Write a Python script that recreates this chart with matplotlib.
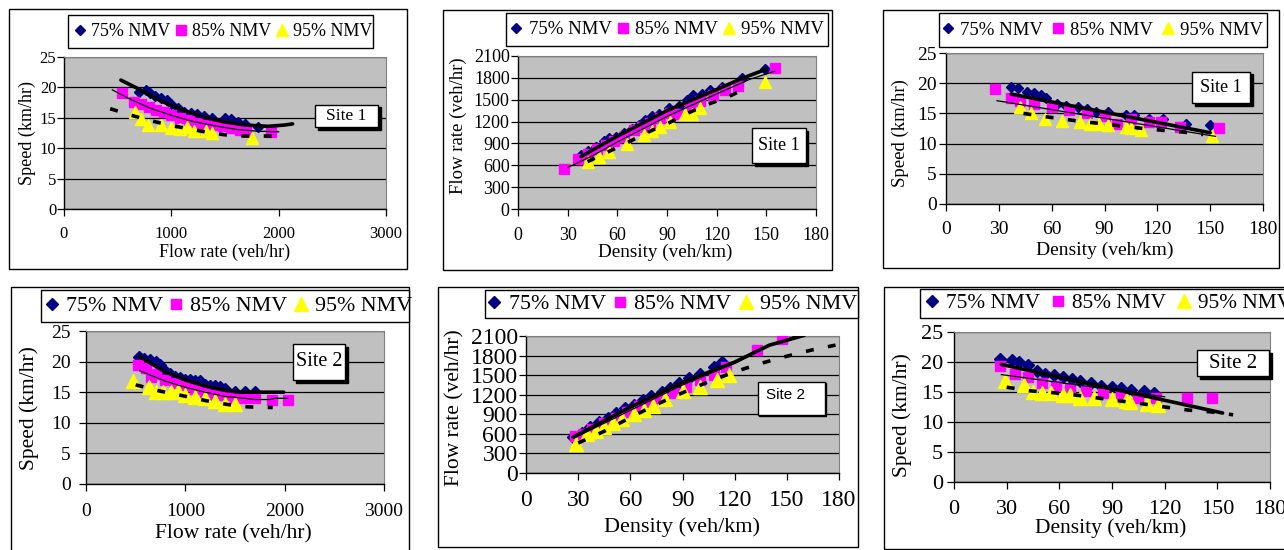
"""Six speed-flow-density panels (Site 1 / Site 2) at 75, 85 and 95 % NMV."""
import matplotlib
matplotlib.use("Agg")
import matplotlib.pyplot as plt
from matplotlib.patches import Rectangle

W, H = 1284, 550
SERIF = "Liberation Serif"
plt.rcParams["font.family"] = [SERIF, "DejaVu Serif"]

LABELS = ["75% NMV", "85% NMV", "95% NMV"]

# ---- Site 1: speed vs flow ----
p1_q75 = [700, 760, 800, 850, 900, 960, 1000, 1060, 1120, 1180, 1240, 1300, 1380, 1500, 1560, 1620, 1690, 1810]
p1_v75 = [19.3, 19.5, 19.0, 18.6, 18.2, 18.0, 17.2, 16.6, 16.0, 15.8, 15.6, 15.3, 15.0, 15.0, 14.8, 14.3, 14.0, 13.5]
p1_q85 = [540, 650, 720, 790, 860, 930, 1000, 1080, 1160, 1240, 1320, 1400, 1480, 1560, 1640, 1700, 1930]
p1_v85 = [19.0, 17.6, 17.2, 16.8, 16.3, 15.9, 15.4, 15.0, 14.6, 14.2, 13.8, 13.8, 13.6, 13.3, 13.0, 12.8, 12.6]
p1_q95 = [660, 720, 780, 900, 1000, 1080, 1150, 1210, 1320, 1380, 1750]
p1_v95 = [16.0, 14.8, 13.8, 13.8, 13.3, 13.2, 13.5, 12.9, 12.8, 12.5, 11.6]
p1_fit75_q = [530, 700, 900, 1100, 1300, 1500, 1700, 1900, 2050, 2130]
p1_fit75_v = [21.2, 19.7, 17.8, 16.3, 15.1, 14.3, 13.8, 13.6, 13.8, 14.0]
p1_fit85_q = [450, 600, 800, 1000, 1200, 1400, 1600, 1800, 2000]
p1_fit85_v = [19.6, 18.2, 16.6, 15.4, 14.4, 13.7, 13.1, 12.8, 12.7]
p1_fit95_q = [430, 610, 790, 980, 1160, 1340, 1500, 1680, 1860, 2030]
p1_fit95_v = [16.5, 15.5, 14.6, 13.8, 13.2, 12.6, 12.2, 12.0, 12.0, 12.0]

# ---- Site 1: flow vs density ----
p2_k75 = [38, 42, 47, 52, 55, 59, 64, 69, 73, 77, 81, 85, 91, 97, 102, 106, 111, 116, 123, 135, 149]
p2_q75 = [740, 800, 850, 930, 970, 990, 1040, 1100, 1150, 1220, 1280, 1300, 1390, 1420, 1500, 1560, 1580, 1640, 1680, 1800, 1920]
p2_k85 = [28, 36, 42, 48, 53, 58, 64, 70, 75, 80, 86, 92, 98, 104, 110, 118, 125, 133, 155]
p2_q85 = [550, 680, 750, 820, 880, 930, 990, 1080, 1120, 1180, 1250, 1320, 1300, 1420, 1480, 1570, 1630, 1690, 1930]
p2_k95 = [42, 49, 55, 66, 76, 81, 86, 92, 101, 105, 110, 149]
p2_q95 = [640, 720, 780, 890, 1010, 1070, 1120, 1190, 1300, 1310, 1380, 1740]
p2_fit75_k = [38, 60, 90, 120, 135, 150]
p2_fit75_q = [720, 1000, 1350, 1640, 1790, 1920]
p2_fit85_k = [30, 45, 60, 90, 120, 140, 155]
p2_fit85_q = [570, 730, 920, 1270, 1580, 1780, 1890]
p2_fit95_k = [42, 54, 66, 78, 91, 103, 115, 127, 138]
p2_fit95_q = [650, 780, 910, 1050, 1180, 1320, 1440, 1540, 1660]

# ---- Site 1: speed vs density ----
p3_k75 = [37, 41, 46, 50, 54, 57, 63, 68, 75, 80, 85, 92, 102, 107, 115, 123, 136, 150]
p3_v75 = [19.4, 19.2, 18.5, 18.3, 18.1, 17.5, 16.6, 16.2, 16.0, 15.8, 15.2, 15.2, 14.8, 14.7, 14.0, 14.0, 13.3, 13.0]
p3_k85 = [28, 37, 42, 50, 60, 70, 80, 90, 97, 105, 115, 122, 133, 155]
p3_v85 = [19.0, 17.5, 17.0, 16.5, 16.0, 15.5, 15.0, 14.5, 13.2, 14.0, 13.5, 13.5, 12.8, 12.5]
p3_k95 = [42, 48, 56, 66, 76, 82, 87, 92, 102, 105, 111, 151]
p3_v95 = [16.0, 15.0, 14.0, 13.8, 13.5, 13.3, 13.3, 13.0, 12.8, 12.5, 12.3, 11.3]
p3_fit75_k = [37, 150]
p3_fit75_v = [18.2, 11.8]
p3_fit85_k = [29, 153]
p3_fit85_v = [17.1, 11.2]
p3_fit95_k = [44, 55, 66, 78, 89, 100, 112, 123, 135, 146]
p3_fit95_v = [15.0, 14.5, 14.1, 13.6, 13.3, 12.9, 12.5, 12.2, 11.9, 11.5]

# ---- Site 2: speed vs flow ----
p4_q75 = [530, 580, 640, 700, 750, 800, 850, 900, 950, 1000, 1050, 1100, 1150, 1200, 1250, 1300, 1350, 1400, 1500, 1600, 1700]
p4_v75 = [20.8, 20.5, 20.2, 20.0, 19.5, 18.5, 18.0, 17.5, 17.3, 17.0, 17.0, 16.8, 16.8, 16.2, 16.0, 16.0, 15.8, 15.5, 15.0, 15.0, 15.0]
p4_q85 = [520, 600, 650, 700, 800, 900, 1000, 1100, 1200, 1300, 1400, 1500, 1600, 1700, 1870, 2030]
p4_v85 = [19.5, 19.0, 17.5, 18.0, 17.0, 16.5, 16.0, 15.5, 15.0, 14.5, 14.5, 14.0, 14.0, 14.0, 13.8, 13.8]
p4_q95 = [470, 630, 700, 780, 860, 930, 1000, 1100, 1200, 1300, 1400, 1500]
p4_v95 = [16.8, 15.8, 15.0, 15.0, 15.0, 15.2, 14.5, 14.2, 14.0, 13.5, 13.0, 13.0]
p4_fit75_q = [540, 800, 1000, 1200, 1400, 1550, 1800, 1990]
p4_fit75_v = [20.8, 18.3, 17.0, 16.0, 15.3, 15.0, 15.0, 15.0]
p4_fit85_q = [540, 800, 1000, 1200, 1400, 1600, 1700, 1850, 1900, 2030]
p4_fit85_v = [18.5, 16.8, 15.8, 15.0, 14.3, 14.0, 13.8, 13.8, 14.0, 14.0]
p4_fit95_q = [500, 740, 980, 1210, 1420, 1630, 1880]
p4_fit95_v = [16.2, 15.2, 14.4, 13.6, 13.0, 12.6, 12.5]

# ---- Site 2: flow vs density ----
p5_k75 = [27, 32, 37, 42, 47, 52, 57, 62, 67, 72, 78, 83, 88, 94, 100, 108, 113]
p5_q75 = [550, 620, 700, 780, 850, 920, 990, 1050, 1120, 1180, 1240, 1300, 1380, 1450, 1520, 1620, 1700]
p5_k85 = [28, 33, 38, 45, 52, 58, 65, 72, 78, 85, 92, 100, 108, 115, 133, 147]
p5_q85 = [560, 600, 680, 760, 850, 930, 1020, 1090, 1150, 1230, 1320, 1420, 1500, 1620, 1880, 2050]
p5_k95 = [29, 35, 40, 45, 50, 55, 62, 68, 73, 80, 90, 100, 110, 117]
p5_q95 = [440, 600, 650, 700, 760, 830, 900, 960, 1030, 1140, 1250, 1320, 1430, 1500]
p5_fit75_k = [27, 60, 90, 120, 140, 160]
p5_fit75_q = [550, 1010, 1390, 1700, 1960, 2110]
p5_fit85_k = [28, 60, 90, 120, 140, 155]
p5_fit85_q = [540, 960, 1350, 1680, 1950, 2100]
p5_fit95_k = [30, 45, 60, 75, 90, 105, 120, 135, 150, 165, 178]
p5_fit95_q = [460, 640, 850, 1050, 1230, 1400, 1550, 1680, 1790, 1890, 1960]

# ---- Site 2: speed vs density ----
p6_k75 = [26, 33, 37, 42, 47, 52, 57, 62, 67, 72, 78, 84, 90, 95, 101, 108, 114]
p6_v75 = [20.5, 20.3, 20.0, 19.5, 18.5, 18.0, 17.8, 17.5, 17.2, 16.8, 16.5, 16.0, 15.8, 15.6, 15.3, 15.2, 14.9]
p6_k85 = [26, 35, 42, 50, 58, 66, 75, 85, 95, 105, 115, 133, 147]
p6_v85 = [19.3, 18.0, 17.5, 16.5, 16.0, 15.5, 15.2, 14.8, 14.5, 14.0, 14.0, 14.0, 14.0]
p6_k95 = [29, 40, 45, 50, 55, 62, 66, 72, 80, 90, 98, 100, 110, 116]
p6_v95 = [16.8, 16.2, 15.0, 14.8, 14.8, 14.5, 14.5, 14.0, 14.0, 13.8, 13.5, 13.3, 13.0, 12.8]
p6_fit75_k = [27, 153]
p6_fit75_v = [19.6, 11.5]
p6_fit85_k = [27, 120]
p6_fit85_v = [17.9, 14.2]
p6_fit95_k = [30, 43, 56, 69, 82, 95, 108, 120, 133, 146, 159]
p6_fit95_v = [15.8, 15.2, 14.9, 14.5, 14.0, 13.5, 13.0, 12.5, 12.0, 11.7, 11.2]

fig = plt.figure(figsize=(W / 100, H / 100), dpi=100)
fig.patch.set_facecolor("white")


def fx(x):
    return x / W


def fy(y):
    return 1 - y / H


def box(x0, y0, x1, y1, fc=None, lw=1.0, z=0.5):
    fig.add_artist(Rectangle((fx(x0), fy(y1)), fx(x1 - x0), (y1 - y0) / H,
                             transform=fig.transFigure, fill=fc is not None,
                             facecolor=fc or "none", edgecolor="black", lw=lw, zorder=z))


def site_box(x0, y0, x1, y1, text, fs, family=SERIF, sh=2.5, tx=None, ty=None):
    if sh:
        box(x0 + sh, y0 + sh, x1 + sh, y1 + sh, fc="black", z=3)
    box(x0, y0, x1, y1, fc="white", z=3.1)
    if tx is None:
        fig.text(fx((x0 + x1) / 2), fy((y0 + y1) / 2), text, ha="center", va="center",
                 fontsize=fs, family=family, zorder=4)
    else:
        fig.text(fx(tx), fy(ty), text, ha="left", va="center",
                 fontsize=fs, family=family, zorder=4)


def panel(rect, series, fits, xmax, xstep, ymax, ystep, tfs, xpad, ypad, ms=1.0):
    x0, y0, x1, y1 = rect
    ax = fig.add_axes([fx(x0), fy(y1), fx(x1 - x0), (y1 - y0) / H])
    ax.set_facecolor("#C0C0C0")
    (xa, ya), (xb, yb), (xc, yc) = series
    h1, = ax.plot(xa, ya, ls="none", marker="D", ms=5.6 * ms, mfc="#000080", mec="#000080", zorder=3)
    h2, = ax.plot(xb, yb, ls="none", marker="s", ms=6.8 * ms, mfc="#FF00FF", mec="#FF00FF", zorder=3.1)
    h3, = ax.plot(xc, yc, ls="none", marker="^", ms=8.4 * ms, mfc="#FFFF00", mec="#FFFF00", zorder=3.2)
    (fa, fb), (fc_, fd), (fe, ff) = fits
    ax.plot(fa, fb, color="black", lw=2.6, zorder=4, solid_capstyle="round")
    ax.plot(fc_, fd, color="black", lw=0.9, zorder=4)
    ax.plot(fe, ff, color="black", lw=2.6, dashes=(2.2, 4.0), zorder=4)
    ax.set_xlim(0, xmax)
    ax.set_ylim(0, ymax)
    ax.set_xticks(range(0, xmax + 1, xstep))
    ax.set_yticks(range(0, ymax + 1, ystep))
    ax.yaxis.grid(True, color="black", lw=0.9)
    ax.set_axisbelow(True)
    for s in ("top", "right"):
        ax.spines[s].set_color("#808080")
    for s in ("left", "bottom"):
        ax.spines[s].set_linewidth(1.0)
    ax.tick_params(direction="out", length=5, width=0.9, labelsize=tfs)
    ax.tick_params(axis="x", pad=xpad)
    ax.tick_params(axis="y", pad=ypad)
    return [h1, h2, h3]


def legend(handles, x0, y0, x1, y1, cx, fs, colsp):
    box(x0, y0, x1, y1, fc="white", z=3)
    fig.legend(handles, LABELS, loc="center", bbox_to_anchor=(fx(cx), fy((y0 + y1) / 2)),
               ncol=3, frameon=False, prop={"family": SERIF, "size": fs},
               handlelength=0.7, handletextpad=0.3, columnspacing=colsp, borderpad=0)


# outer frames
box(9, 9, 407, 269)
box(443, 10, 832, 270)
box(883, 10, 1279, 268)
box(11, 287, 409, 560)
box(438, 287, 858, 547)
box(884, 287, 1300, 549)

# ---- top row ----
h = panel((64, 57, 386, 209), [(p1_q75, p1_v75), (p1_q85, p1_v85), (p1_q95, p1_v95)],
          [(p1_fit75_q, p1_fit75_v), (p1_fit85_q, p1_fit85_v), (p1_fit95_q, p1_fit95_v)],
          3000, 1000, 25, 5, 12, 7, 0.5)
legend(h, 68, 15, 373, 48, 223, 13, 0.2)
site_box(315, 105, 378, 127, "Site 1", 12.5)
fig.text(fx(225), fy(252), "Flow rate (veh/hr)", ha="center", va="center", fontsize=13)
fig.text(fx(27), fy(133), "Speed (km/hr)", ha="center", va="center", rotation=90, fontsize=13)

h = panel((518, 56, 816, 209), [(p2_k75, p2_q75), (p2_k85, p2_q85), (p2_k95, p2_q95)],
          [(p2_fit75_k, p2_fit75_q), (p2_fit85_k, p2_fit85_q), (p2_fit95_k, p2_fit95_q)],
          180, 30, 2100, 300, 13, 8, 1)
legend(h, 506, 13, 828, 46, 667, 13.5, 0.25)
site_box(752, 128, 806, 163, "Site 1", 13)
fig.text(fx(665), fy(252), "Density (veh/km)", ha="center", va="center", fontsize=13.8)
fig.text(fx(458), fy(126), "Flow rate (veh/hr)", ha="center", va="center", rotation=90, fontsize=13.5)

h = panel((946, 53, 1263, 204), [(p3_k75, p3_v75), (p3_k85, p3_v85), (p3_k95, p3_v95)],
          [(p3_fit75_k, p3_fit75_v), (p3_fit85_k, p3_fit85_v), (p3_fit95_k, p3_fit95_v)],
          180, 30, 25, 5, 14, 7, 1.5)
legend(h, 939, 13, 1267, 47, 1102, 13.5, 0.45)
site_box(1192, 72, 1250, 103, "Site 1", 13)
fig.text(fx(1105), fy(250), "Density (veh/km)", ha="center", va="center", fontsize=14)
fig.text(fx(900), fy(133), "Speed (km/hr)", ha="center", va="center", rotation=90, fontsize=13.5)

# ---- bottom row ----
h = panel((86, 331, 384, 484), [(p4_q75, p4_v75), (p4_q85, p4_v85), (p4_q95, p4_v95)],
          [(p4_fit75_q, p4_fit75_v), (p4_fit85_q, p4_fit85_v), (p4_fit95_q, p4_fit95_v)],
          3000, 1000, 25, 5, 14, 9, 6, ms=1.15)
legend(h, 41, 290, 409, 322, 228, 15.8, 0.25)
site_box(293, 344, 345, 380, "Site 2", 14.5)
fig.text(fx(233), fy(534), "Flow rate (veh/hr)", ha="center", va="center", fontsize=15.5)
fig.text(fx(29), fy(408), "Speed (km/hr)", ha="center", va="center", rotation=90, fontsize=15.5)

h = panel((526, 336, 839, 473), [(p5_k75, p5_q75), (p5_k85, p5_q85), (p5_k95, p5_q95)],
          [(p5_fit75_k, p5_fit75_q), (p5_fit85_k, p5_fit85_q), (p5_fit95_k, p5_fit95_q)],
          180, 30, 2100, 300, 17, 7, 1, ms=1.15)
legend(h, 485, 290, 858, 318, 672, 15.8, 0.3)
site_box(758, 382, 825, 415, "Site 2", 11, family="Liberation Sans", sh=1, tx=766, ty=395)
fig.text(fx(682), fy(527), "Density (veh/km)", ha="center", va="center", fontsize=16)
fig.text(fx(455), fy(408), "Flow rate (veh/hr)", ha="center", va="center", rotation=90, fontsize=15.5)

h = panel((954, 332, 1270, 482), [(p6_k75, p6_v75), (p6_k85, p6_v85), (p6_k95, p6_v95)],
          [(p6_fit75_k, p6_fit75_v), (p6_fit85_k, p6_fit85_v), (p6_fit95_k, p6_fit95_v)],
          180, 30, 25, 5, 16, 8, 3, ms=1.15)
legend(h, 920, 289, 1300, 318, 1108, 15.3, 0.5)
site_box(1197, 350, 1269, 376, "Site 2", 15)
fig.text(fx(1111), fy(528), "Density (veh/km)", ha="center", va="center", fontsize=15.5)
fig.text(fx(902), fy(415), "Speed (km/hr)", ha="center", va="center", rotation=90, fontsize=15.5)

fig.savefig("out.png", dpi=100)
